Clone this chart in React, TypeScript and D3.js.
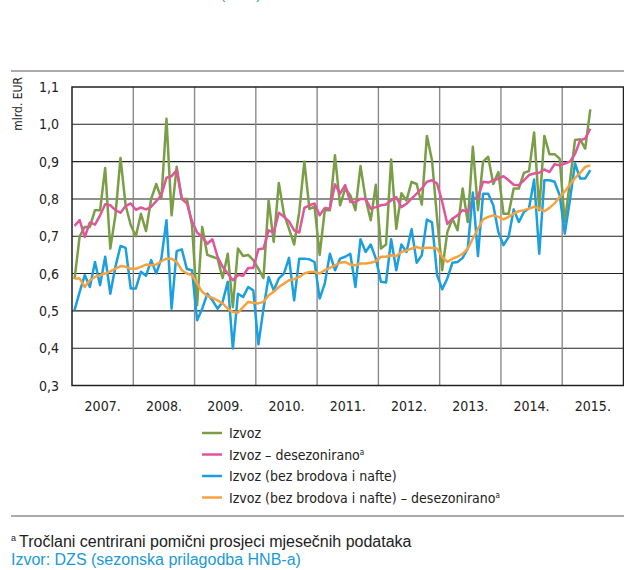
import * as d3 from 'd3';

const years = [2007, 2008, 2009, 2010, 2011, 2012, 2013, 2014, 2015];
const yTicks = [0.3, 0.4, 0.5, 0.6, 0.7, 0.8, 0.9, 1.0, 1.1];

// monthly values, Jan 2007 - Jun 2015, mlrd. EUR
const izvoz = [
  0.585, 0.70, 0.725, 0.725, 0.77, 0.77, 0.883, 0.667, 0.756, 0.91, 0.783, 0.73,
  0.70, 0.76, 0.714, 0.80, 0.84, 0.80, 1.015, 0.756, 0.886, 0.80, 0.80, 0.73,
  0.515, 0.725, 0.65, 0.645, 0.64, 0.588, 0.653, 0.51, 0.667, 0.647, 0.65, 0.636,
  0.613, 0.588, 0.796, 0.685, 0.843, 0.76, 0.72, 0.678, 0.765, 0.90, 0.773, 0.78,
  0.65, 0.77, 0.77, 0.917, 0.783, 0.828, 0.81, 0.77, 0.888, 0.80, 0.743, 0.838,
  0.667, 0.678, 0.906, 0.72, 0.815, 0.796, 0.846, 0.84, 0.785, 0.969, 0.904, 0.747,
  0.609, 0.711, 0.747, 0.716, 0.828, 0.738, 0.94, 0.77, 0.90, 0.913, 0.84, 0.872,
  0.76, 0.76, 0.828, 0.828, 0.87, 0.875, 0.978, 0.77, 0.969, 0.92, 0.92, 0.908,
  0.738, 0.846, 0.958, 0.96, 0.935, 1.04,
];

const izvozSa = [
  0.728, 0.743, 0.698, 0.737, 0.731, 0.756, 0.786, 0.783, 0.77, 0.763, 0.781, 0.788,
  0.771, 0.777, 0.772, 0.779, 0.794, 0.81, 0.857, 0.861, 0.877, 0.80, 0.788, 0.74,
  0.71, 0.698, 0.68, 0.692, 0.645, 0.618, 0.60, 0.582, 0.596, 0.594, 0.615, 0.615,
  0.665, 0.667, 0.716, 0.71, 0.763, 0.752, 0.74, 0.716, 0.71, 0.776, 0.783, 0.788,
  0.756, 0.776, 0.774, 0.839, 0.814, 0.837, 0.792, 0.792, 0.80, 0.80, 0.774, 0.778,
  0.783, 0.785, 0.796, 0.805, 0.778, 0.787, 0.801, 0.814, 0.828, 0.846, 0.85, 0.841,
  0.792, 0.733, 0.747, 0.756, 0.77, 0.765, 0.80, 0.805, 0.846, 0.844, 0.85, 0.854,
  0.861, 0.85, 0.838, 0.837, 0.85, 0.864, 0.868, 0.87, 0.879, 0.872, 0.893, 0.89,
  0.895, 0.90, 0.92, 0.957, 0.962, 0.988,
];

const izvozBez = [
  0.502, 0.551, 0.596, 0.564, 0.631, 0.569, 0.645, 0.546, 0.618, 0.674, 0.669, 0.56,
  0.56, 0.605, 0.594, 0.636, 0.60, 0.64, 0.743, 0.506, 0.66, 0.665, 0.612, 0.609,
  0.475, 0.506, 0.546, 0.528, 0.506, 0.524, 0.578, 0.399, 0.546, 0.537, 0.564, 0.555,
  0.41, 0.506, 0.591, 0.555, 0.587, 0.60, 0.642, 0.528, 0.64, 0.64, 0.638, 0.631,
  0.533, 0.573, 0.653, 0.609, 0.64, 0.645, 0.653, 0.564, 0.692, 0.658, 0.678, 0.64,
  0.578, 0.576, 0.692, 0.609, 0.678, 0.658, 0.719, 0.629, 0.649, 0.745, 0.737, 0.596,
  0.558, 0.587, 0.629, 0.631, 0.642, 0.667, 0.817, 0.647, 0.814, 0.814, 0.783, 0.711,
  0.676, 0.698, 0.772, 0.738, 0.765, 0.775, 0.852, 0.653, 0.85, 0.85, 0.846, 0.81,
  0.707, 0.796, 0.895, 0.855, 0.855, 0.877,
];

const izvozBezSa = [
  0.587, 0.587, 0.564, 0.582, 0.591, 0.596, 0.60, 0.606, 0.613, 0.62, 0.618, 0.613,
  0.613, 0.618, 0.624, 0.622, 0.624, 0.633, 0.64, 0.64, 0.631, 0.609, 0.60, 0.596,
  0.573, 0.551, 0.54, 0.535, 0.528, 0.52, 0.506, 0.497, 0.495, 0.51, 0.524, 0.522,
  0.52, 0.524, 0.542, 0.551, 0.564, 0.573, 0.582, 0.585, 0.591, 0.60, 0.604, 0.604,
  0.60, 0.609, 0.615, 0.622, 0.629, 0.631, 0.624, 0.622, 0.627, 0.627, 0.629, 0.633,
  0.645, 0.645, 0.649, 0.647, 0.658, 0.662, 0.667, 0.671, 0.667, 0.669, 0.669, 0.667,
  0.645, 0.631, 0.64, 0.645, 0.653, 0.667, 0.694, 0.72, 0.745, 0.752, 0.756, 0.752,
  0.745, 0.752, 0.761, 0.767, 0.77, 0.774, 0.779, 0.774, 0.767, 0.776, 0.788, 0.805,
  0.82, 0.838, 0.856, 0.87, 0.886, 0.89,
];

const series = [
  { name: 'Izvoz', sup: false, color: '#7a9e45', values: izvoz },
  { name: 'Izvoz – desezonirano', sup: true, color: '#e0569b', values: izvozSa },
  { name: 'Izvoz (bez brodova i nafte)', sup: false, color: '#1b9fdf', values: izvozBez },
  { name: 'Izvoz (bez brodova i nafte) – desezonirano', sup: true, color: '#f7a23e', values: izvozBezSa },
];

const narrow = "'Liberation Sans Narrow', 'DejaVu Sans Condensed', 'Roboto', sans-serif";
const regular = "'Liberation Sans', Arial, sans-serif";

export default function App() {
  const width = 624;
  const height = 570;
  const left = 72;
  const right = 623.5;
  const top = 87;
  const bottom = 385.5;

  const x = d3.scaleLinear().domain([2007, 2016]).range([left, right]);
  const y = d3.scaleLinear().domain([0.3, 1.1]).range([bottom, top]);

  const line = d3
    .line<number>()
    .x((_, i) => x(2007 + (i + 0.5) / 12))
    .y(d => y(d));

  const fmt = (v: number) => d3.format('.1f')(v).replace('.', ',');

  return (
    <svg
      width={width}
      height={height}
      style={{ position: 'absolute', left: 0, top: 0, background: '#fff' }}
    >
      {/* title line, cut off at the top edge as in the source page */}
      <text x={261} y={-1} textAnchor="end" fontFamily={regular} fontSize={14} fill="#1a9ad6">
        Izvoz robe (mlrd.)
      </text>
      <line x1={11} x2={width} y1={71} y2={71} stroke="#8c8c8c" strokeWidth={1.5} />

      <text
        transform={`translate(22,77) rotate(-90)`}
        textAnchor="end"
        fontFamily={narrow}
        fontSize={12}
        fill="#222"
      >
        mlrd. EUR
      </text>

      {/* grid */}
      {yTicks.slice(1, -1).map(t => (
        <line key={t} x1={left} x2={right} y1={y(t)} y2={y(t)} stroke="#222" strokeWidth={1.1} />
      ))}
      {years.slice(1).map(yr => (
        <line key={yr} x1={x(yr)} x2={x(yr)} y1={top} y2={bottom} stroke="#8a8a8a" strokeWidth={1.4} />
      ))}
      <rect
        x={left}
        y={top}
        width={right - left}
        height={bottom - top}
        fill="none"
        stroke="#222"
        strokeWidth={1.5}
      />

      {yTicks.map(t => (
        <text
          key={t}
          x={59}
          y={y(t) + 5}
          textAnchor="end"
          fontFamily={narrow}
          fontSize={14}
          fill="#222"
        >
          {fmt(t)}
        </text>
      ))}
      {years.map(yr => (
        <text
          key={yr}
          x={x(yr + 0.5)}
          y={411}
          textAnchor="middle"
          fontFamily={narrow}
          fontSize={14}
          fill="#222"
        >
          {yr}.
        </text>
      ))}

      {/* series */}
      {series.map(s => (
        <path
          key={s.name}
          d={line(s.values) ?? ''}
          fill="none"
          stroke={s.color}
          strokeWidth={2.5}
          strokeLinejoin="round"
        />
      ))}

      {/* legend */}
      {series.map((s, i) => {
        const ly = 433 + i * 21.5;
        return (
          <g key={s.name}>
            <line x1={202} x2={222} y1={ly} y2={ly} stroke={s.color} strokeWidth={2.5} />
            <text x={229} y={ly + 5} fontFamily={narrow} fontSize={14} fill="#222">
              {s.name}
              {s.sup && (
                <tspan fontSize={8} dy={-5}>
                  a
                </tspan>
              )}
            </text>
          </g>
        );
      })}

      <line x1={11} x2={width} y1={516} y2={516} stroke="#8c8c8c" strokeWidth={1.5} />
      <text x={11} y={547} fontFamily={regular} fontSize={16} fill="#222">
        <tspan fontSize={9} dy={-6}>
          a
        </tspan>
        <tspan dx={3} dy={6}>
          Tročlani centrirani pomični prosjeci mjesečnih podataka
        </tspan>
      </text>
      <text x={11} y={565} fontFamily={regular} fontSize={16} fill="#1a9ad6">
        Izvor: DZS (sezonska prilagodba HNB-a)
      </text>
    </svg>
  );
}
